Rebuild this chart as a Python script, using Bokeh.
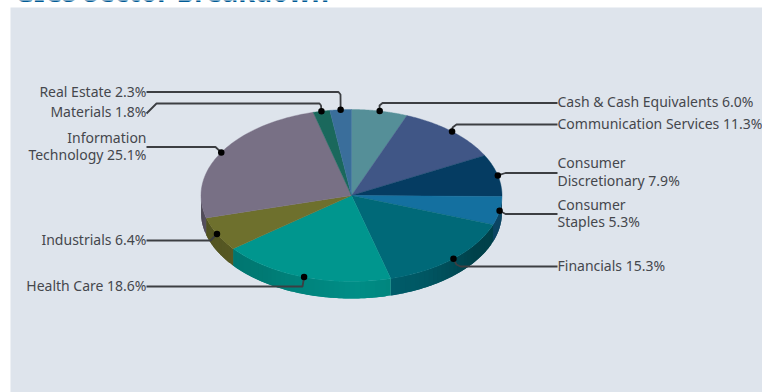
import numpy as np
from bokeh.core.properties import value
from bokeh.embed import file_html
from bokeh.models import Range1d
from bokeh.plotting import figure
from bokeh.resources import INLINE

# Sector weights in percent, clockwise from twelve o'clock
sectors = ["Cash & Cash Equivalents", "Communication Services", "Consumer Discretionary",
           "Consumer Staples", "Financials", "Health Care", "Industrials",
           "Information Technology", "Materials", "Real Estate"]
weights = [6.0, 11.3, 7.9, 5.3, 15.3, 18.6, 6.4, 25.1, 1.8, 2.3]
colors = [(85, 143, 152), (64, 86, 134), (5, 60, 98), (20, 112, 160), (0, 105, 120),
          (0, 150, 142), (110, 112, 45), (120, 112, 133), (26, 104, 92), (58, 110, 155)]

# Label text lines, anchor side and vertical centre of each line
label_lines = [
    (["Cash & Cash Equivalents 6.0%"], "left", [101]),
    (["Communication Services 11.3%"], "left", [123]),
    (["Consumer", "Discretionary 7.9%"], "left", [162, 180]),
    (["Consumer", "Staples 5.3%"], "left", [204, 221]),
    (["Financials 15.3%"], "left", [265]),
    (["Health Care 18.6%"], "right", [285]),
    (["Industrials 6.4%"], "right", [239]),
    (["Information", "Technology 25.1%"], "right", [137, 154]),
    (["Materials 1.8%"], "right", [111]),
    (["Real Estate 2.3%"], "right", [91]),
]

# Leader routes from the label edge to just before the slice anchor
leader_routes = [
    [(557, 102.5), (382, 102.5), (379, 105)],
    [(557, 124), (456, 124), (452, 127)],
    [(557, 172.5), (505, 172.5)],
    [(557, 213.5), (505, 213.5)],
    [(557, 266), (460, 266), (456, 264)],
    [(146, 286), (302, 286)],
    [(146, 240), (210, 240)],
    [(146, 146.5), (215, 146.5)],
    [(146, 113), (156, 103), (319, 103), (320.5, 105)],
    [(146, 91.5), (338, 91.5), (340, 94)],
]

CX, CY, RX, RY, DEPTH = 351.0, 195.0, 150.5, 86.0, 17.0
LABEL_RIGHT, LABEL_LEFT = 146, 557


def rim(t):
    """Point on the top ellipse at angle t (radians clockwise from the top)."""
    return CX + RX * np.sin(t), CY - RY * np.cos(t)


def side_shade(t):
    """Brightness of the pie's outer wall, brightest near the front."""
    deg = np.degrees(t)
    return np.interp(deg, [90, 125, 150, 178, 215, 250, 270],
                     [0.62, 0.62, 0.82, 0.95, 0.82, 0.76, 0.62])


p = figure(width=762, height=392, output_backend="svg", toolbar_location=None,
           x_range=Range1d(0, 762), y_range=Range1d(392, 0), min_border=0,
           background_fill_color="white", border_fill_color="white", outline_line_color=None)
p.axis.visible = False
p.grid.visible = False

p.quad(left=[10], right=[762], top=[7], bottom=[392], fill_color="#dee4ec", line_color=None)

p.text(x=[14], y=[9.5], text=["GICS Sector Breakdown"], text_color="#005a94",
       text_font=value("Noto Sans"), text_font_size="27px", text_font_style="bold",
       text_align="left", text_baseline="bottom")

edges = 2 * np.pi * np.cumsum([0] + weights) / sum(weights)
mids = (edges[:-1] + edges[1:]) / 2

# Outer wall: overlapping shaded strips along the front half of the rim, so no seams show
wall_x, wall_y, wall_c = [], [], []
for start, stop, rgb in zip(edges[:-1], edges[1:], colors):
    lo, hi = max(start, np.pi / 2), min(stop, 3 * np.pi / 2)
    if hi <= lo:
        continue
    steps = np.linspace(lo, hi, max(2, int(np.degrees(hi - lo) / 2) + 2))
    for i in range(len(steps) - 1):
        arc = np.linspace(steps[i], steps[min(i + 2, len(steps) - 1)], 6)
        x, y = rim(arc)
        wall_x.append(list(x) + list(x[::-1]))
        wall_y.append(list(y) + list(y[::-1] + DEPTH))
        s = side_shade((steps[i] + steps[i + 1]) / 2)
        wall_c.append("#%02x%02x%02x" % tuple(int(c * s) for c in rgb))
p.patches(wall_x, wall_y, fill_color=wall_c, line_color=None)

# Top face
top_x, top_y, top_c = [], [], []
for start, stop, rgb in zip(edges[:-1], edges[1:], colors):
    t = np.linspace(start, stop, 60)
    x, y = rim(t)
    top_x.append([CX] + list(x))
    top_y.append([CY] + list(y))
    top_c.append("#%02x%02x%02x" % rgb)
p.patches(top_x, top_y, fill_color=top_c, line_color=top_c, line_width=0.4)

# Leaders end on a dot placed on the rim at each slice's middle angle
ax, ay = rim(mids)
for route, x0, y0 in zip(leader_routes, ax, ay):
    xs = [q[0] for q in route] + [x0]
    ys = [q[1] for q in route] + [y0]
    p.line(xs, ys, line_color="#3c3e42", line_width=1.8)
p.scatter(ax, ay, size=6.5, fill_color="black", line_color="black", line_width=0)

for lines, side, centres in label_lines:
    p.text(x=[LABEL_LEFT if side == "left" else LABEL_RIGHT] * len(lines), y=centres, text=lines,
           text_align=side, text_baseline="middle", text_color="#45474c",
           text_font=value("Noto Sans"), text_font_size="14px")

open("out.html", "w").write(file_html(p, INLINE))
